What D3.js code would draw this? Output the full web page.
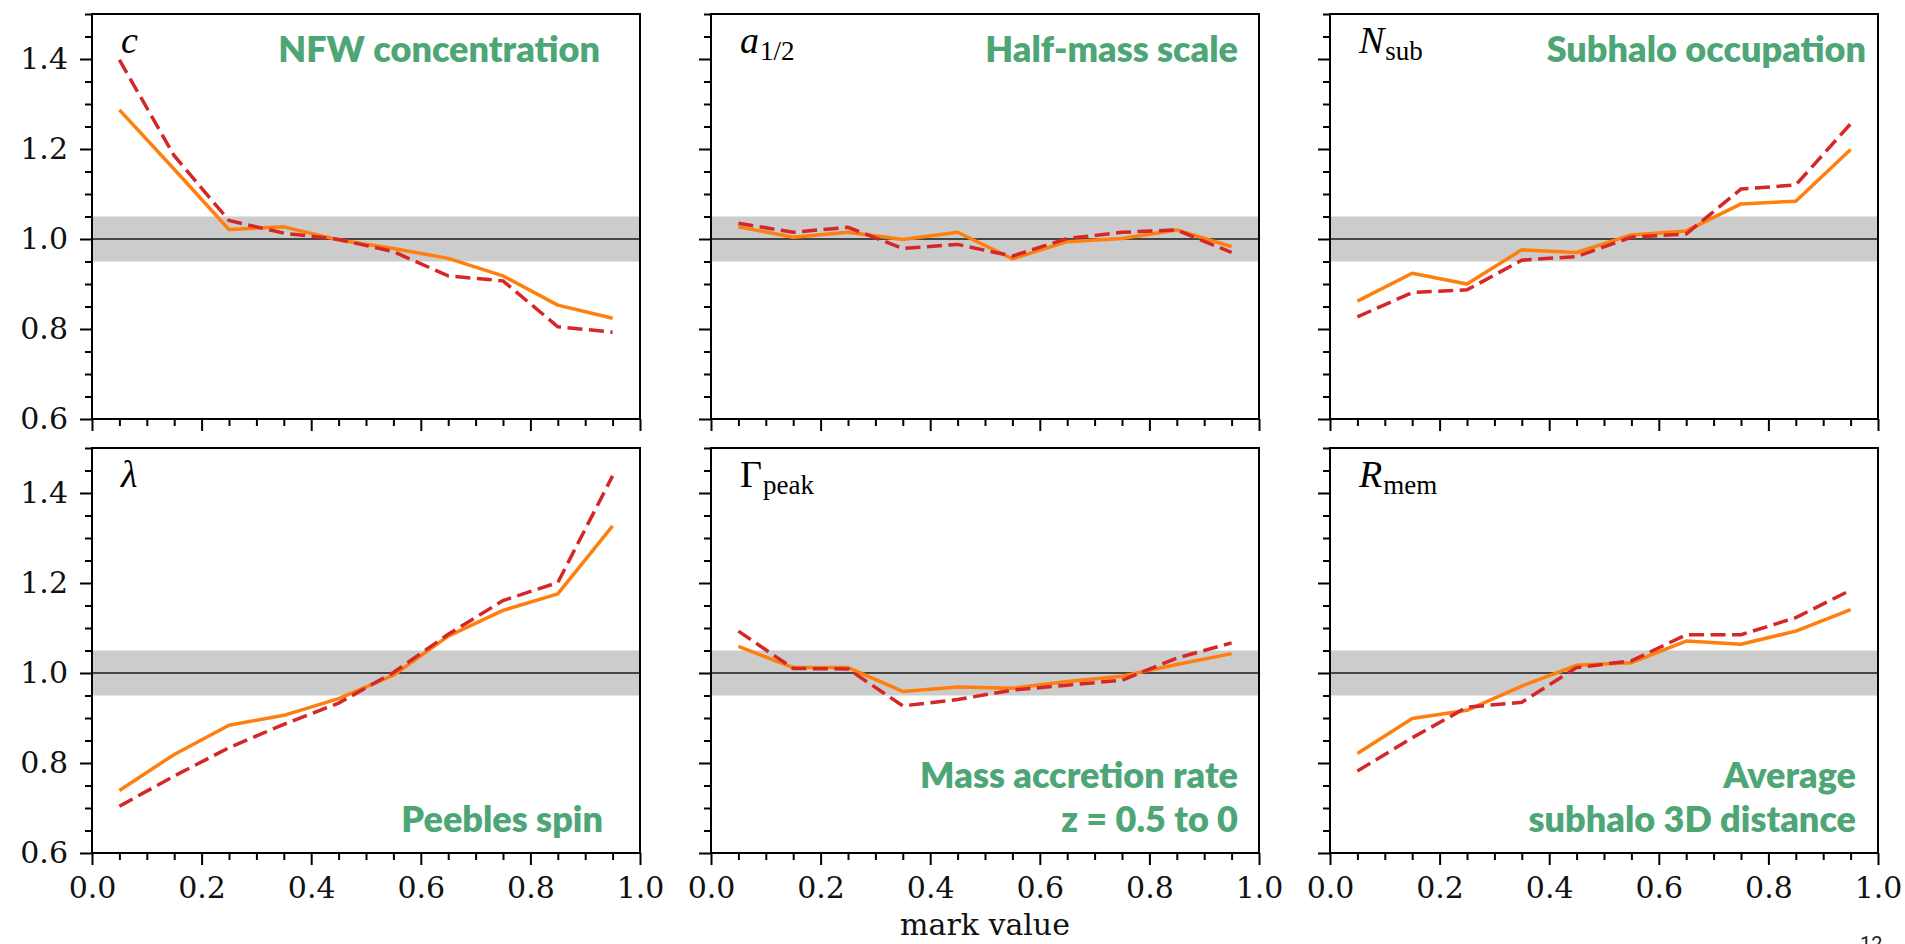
<!DOCTYPE html>
<html>
<head>
<meta charset="utf-8">
<script src="https://cdn.jsdelivr.net/npm/d3@7"></script>
<style>
  html, body { margin: 0; padding: 0; background: #fff; }
  svg { display: block; }
</style>
</head>
<body>
<svg id="chart" width="1905" height="944"></svg>
<script>
// Bin centres of the mark value
const markBins = [0.05, 0.15, 0.25, 0.35, 0.45, 0.55, 0.65, 0.75, 0.85, 0.95];

// Tick labels
const xTickValues = [0.0, 0.2, 0.4, 0.6, 0.8, 1.0];
const yTickValues = [0.6, 0.8, 1.0, 1.2, 1.4];

// Marked correlation ratios: solid = one model, dashed = the other
const concSolid   = [1.287, 1.155, 1.021, 1.027, 0.998, 0.979, 0.957, 0.918, 0.853, 0.824];
const concDashed  = [1.398, 1.185, 1.041, 1.013, 0.999, 0.972, 0.918, 0.907, 0.805, 0.793];
const halfSolid   = [1.027, 1.004, 1.015, 0.999, 1.015, 0.956, 0.994, 1.001, 1.020, 0.983];
const halfDashed  = [1.035, 1.015, 1.026, 0.979, 0.988, 0.962, 1.001, 1.015, 1.020, 0.970];
const nsubSolid   = [0.862, 0.924, 0.900, 0.976, 0.970, 1.009, 1.018, 1.078, 1.084, 1.199];
const nsubDashed  = [0.827, 0.881, 0.887, 0.953, 0.961, 1.004, 1.011, 1.111, 1.120, 1.256];
const spinSolid   = [0.739, 0.819, 0.884, 0.906, 0.943, 0.995, 1.082, 1.139, 1.176, 1.327];
const spinDashed  = [0.704, 0.771, 0.834, 0.886, 0.933, 1.001, 1.086, 1.161, 1.201, 1.438];
const accrSolid   = [1.059, 1.012, 1.012, 0.959, 0.969, 0.966, 0.981, 0.993, 1.019, 1.043];
const accrDashed  = [1.093, 1.010, 1.009, 0.927, 0.941, 0.962, 0.973, 0.984, 1.033, 1.067];
const rmemSolid   = [0.821, 0.899, 0.917, 0.971, 1.017, 1.023, 1.071, 1.064, 1.093, 1.141];
const rmemDashed  = [0.782, 0.856, 0.924, 0.935, 1.012, 1.027, 1.085, 1.085, 1.123, 1.184];

// Panel symbols and descriptions
const symbolMain   = ["c", "a", "N", "λ", "Γ", "R"];
const symbolSub    = ["", "1/2", "sub", "", "peak", "mem"];
const symbolItalic = [true, true, true, true, false, true];
const panelTitles  = [
  ["NFW concentration"],
  ["Half-mass scale"],
  ["Subhalo occupation"],
  ["Peebles spin"],
  ["Mass accretion rate", "z = 0.5 to 0"],
  ["Average", "subhalo 3D distance"]
];
const solidSeries  = [concSolid, halfSolid, nsubSolid, spinSolid, accrSolid, rmemSolid];
const dashedSeries = [concDashed, halfDashed, nsubDashed, spinDashed, accrDashed, rmemDashed];

// Reference band around unity
const bandLow = 0.95, bandHigh = 1.05, unity = 1.0;

// ---- layout ----
const panelW = 548, panelH = 405;
const colLeft = [92, 711, 1330];
const rowTop = [14, 448];
const titleRightPad = [40, 21, 12, 37, 21, 22];
const tickFont = '"DejaVu Serif", serif';
const symFont = '"Liberation Serif", "Times New Roman", serif';
const sans = 'Lato, "Open Sans", sans-serif';
const green = "#4ea677";
const orange = "#ff7f0e";
const red = "#d62728";

const svg = d3.select("#chart");

const x = d3.scaleLinear().domain([0, 1]).range([0, panelW]);
const y = d3.scaleLinear().domain([0.6, 1.5]).range([panelH, 0]);

const xMinor = d3.range(0, 21).map(i => i * 0.05).filter(v => Math.abs(v / 0.2 - Math.round(v / 0.2)) > 1e-6);
const yMinor = d3.range(0, 19).map(i => 0.6 + i * 0.05).filter(v => Math.abs((v - 0.6) / 0.2 - Math.round((v - 0.6) / 0.2)) > 1e-6);

const line = d3.line().x((d, i) => x(markBins[i])).y(d => y(d));

for (let p = 0; p < 6; p++) {
  const row = Math.floor(p / 3), col = p % 3;
  const g = svg.append("g").attr("transform", `translate(${colLeft[col]},${rowTop[row]})`);

  // grey band and unity line
  g.append("rect")
    .attr("x", 0).attr("width", panelW)
    .attr("y", y(bandHigh)).attr("height", y(bandLow) - y(bandHigh))
    .attr("fill", "#cccccc");
  g.append("line")
    .attr("x1", 0).attr("x2", panelW)
    .attr("y1", y(unity)).attr("y2", y(unity))
    .attr("stroke", "#1a1a1a").attr("stroke-width", 1.6);

  // curves
  g.append("path").datum(solidSeries[p])
    .attr("d", line).attr("fill", "none")
    .attr("stroke", orange).attr("stroke-width", 3.5)
    .attr("stroke-linejoin", "round");
  g.append("path").datum(dashedSeries[p])
    .attr("d", line).attr("fill", "none")
    .attr("stroke", red).attr("stroke-width", 3.5)
    .attr("stroke-dasharray", "15,6.5");

  // axes
  const showX = row === 1, showY = col === 0;
  g.append("g").attr("transform", `translate(0,${panelH})`)
    .call(d3.axisBottom(x).tickValues(xTickValues).tickSize(12).tickPadding(12)
      .tickFormat(showX ? d3.format(".1f") : () => ""));
  g.append("g").attr("transform", `translate(0,${panelH})`)
    .call(d3.axisBottom(x).tickValues(xMinor).tickSize(7).tickFormat(() => ""));
  g.append("g")
    .call(d3.axisLeft(y).tickValues(yTickValues).tickSize(12).tickPadding(12)
      .tickFormat(showY ? d3.format(".1f") : () => ""));
  g.append("g")
    .call(d3.axisLeft(y).tickValues(yMinor).tickSize(7).tickFormat(() => ""));

  g.selectAll(".domain").remove();
  g.selectAll(".tick line").attr("stroke", "#000").attr("stroke-width", 2);
  g.selectAll(".tick text").attr("fill", "#111")
    .style("font-family", tickFont).style("font-size", "30px");

  // frame
  g.append("rect").attr("width", panelW).attr("height", panelH)
    .attr("fill", "none").attr("stroke", "#000").attr("stroke-width", 2);

  // symbol label
  const sym = g.append("text")
    .attr("x", 29).attr("y", 39)
    .attr("font-family", symFont).attr("fill", "#000");
  sym.append("tspan").text(symbolMain[p])
    .attr("font-size", 38)
    .attr("font-style", symbolItalic[p] ? "italic" : "normal");
  if (symbolSub[p]) {
    sym.append("tspan").text(symbolSub[p])
      .attr("font-size", 27).attr("dy", 7).attr("dx", 1);
  }

  // description
  const lines = panelTitles[p];
  const lineGap = 44;
  const firstBaseline = row === 0 ? 48 : panelH - 21 - (lines.length - 1) * lineGap;
  const t = g.append("text")
    .attr("text-anchor", "end")
    .attr("font-family", sans).attr("font-weight", 800)
    .attr("font-size", 36).attr("fill", green);
  lines.forEach((s, i) => {
    t.append("tspan").attr("x", panelW - titleRightPad[p])
      .attr("y", firstBaseline + i * lineGap).text(s);
  });
}

// shared x-axis title
svg.append("text")
  .attr("x", colLeft[1] + panelW / 2).attr("y", 935)
  .attr("text-anchor", "middle")
  .attr("font-family", tickFont).attr("font-size", 30).attr("fill", "#111")
  .text("mark value");

// page number at the lower edge
svg.append("text")
  .attr("x", 1860).attr("y", 951)
  .attr("font-family", "Roboto, sans-serif").attr("font-size", 20).attr("fill", "#222")
  .text("12");
</script>
</body>
</html>
